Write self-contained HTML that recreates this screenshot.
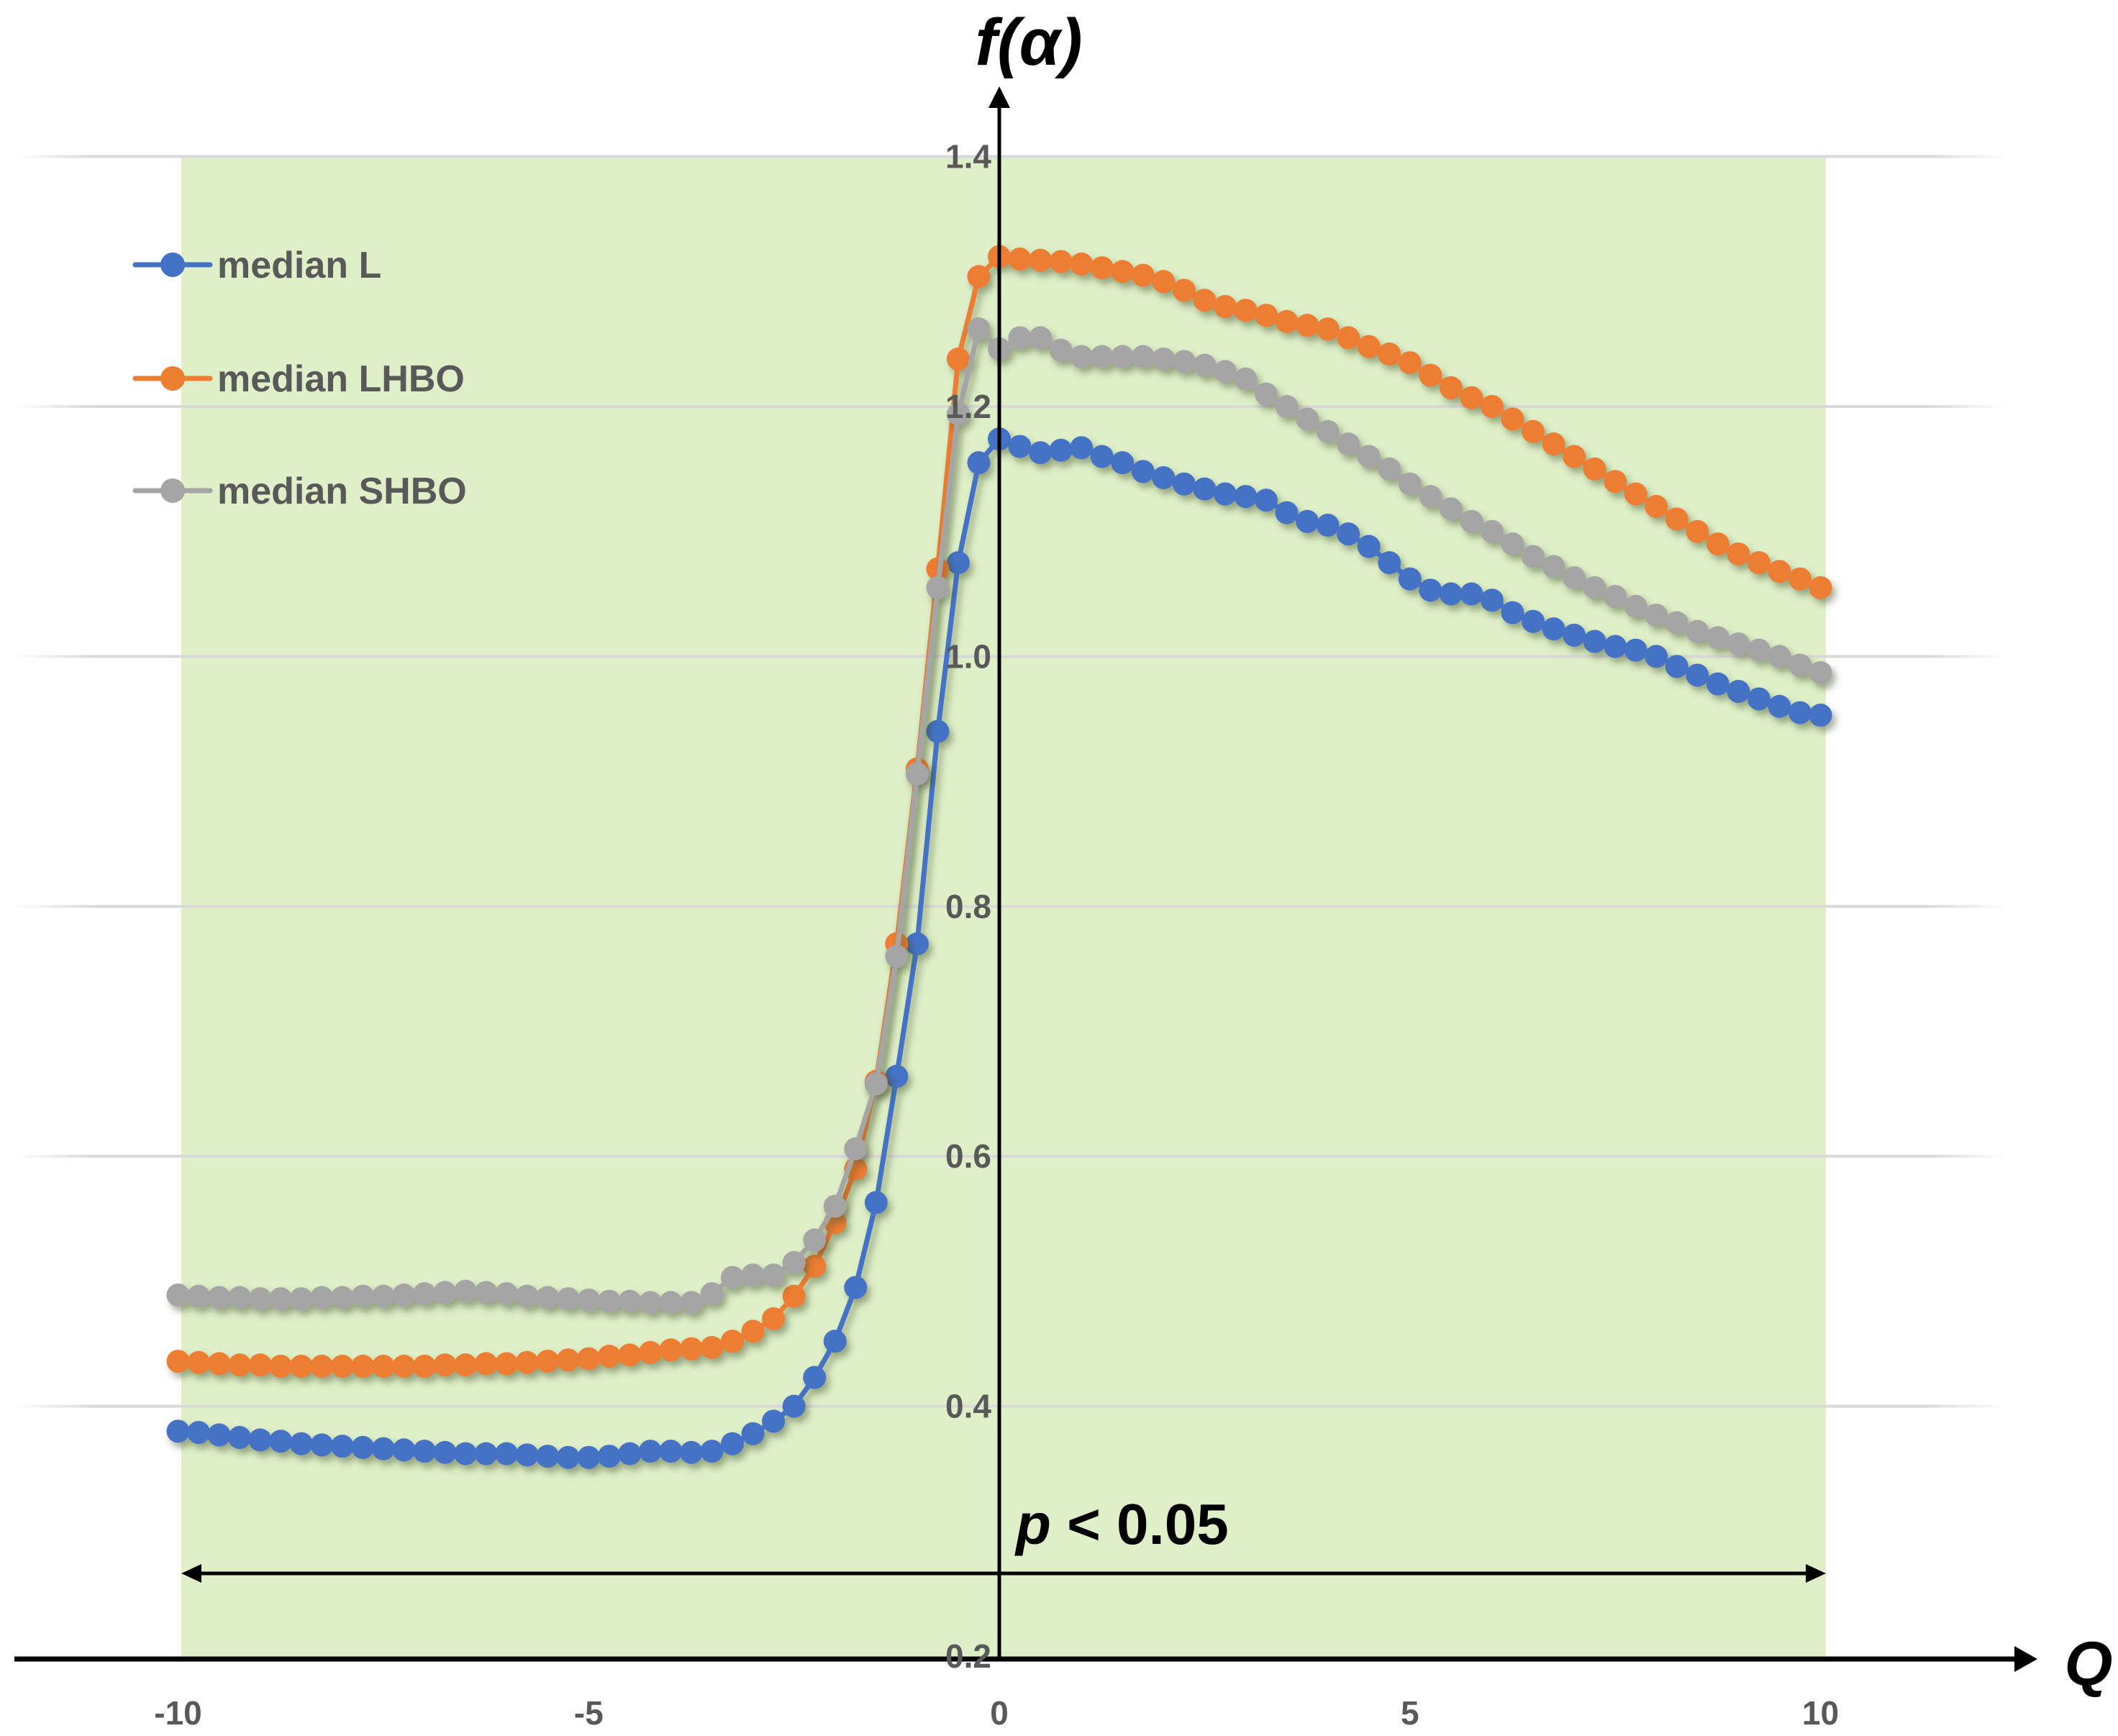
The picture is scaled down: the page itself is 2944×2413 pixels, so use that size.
<!DOCTYPE html>
<html><head><meta charset="utf-8"><title>f(alpha) vs Q</title>
<style>
html,body{margin:0;padding:0;background:#fff;}
svg{display:block;}
text{font-family:"Liberation Sans",sans-serif;}
</style></head>
<body>
<svg id="chart" xmlns="http://www.w3.org/2000/svg" width="2944" height="2413" viewBox="0 0 2944 2413">
<defs>
  <filter id="sh" x="-5%" y="-5%" width="110%" height="110%">
    <feDropShadow dx="5" dy="7" stdDeviation="5" flood-color="#3a4a20" flood-opacity="0.45"/>
  </filter>
  <linearGradient id="gridfade" x1="0" x2="1" y1="0" y2="0">
    <stop offset="0" stop-color="#d9d9d9" stop-opacity="0"/>
    <stop offset="0.04" stop-color="#d9d9d9" stop-opacity="1"/>
    <stop offset="0.96" stop-color="#d9d9d9" stop-opacity="1"/>
    <stop offset="1" stop-color="#d9d9d9" stop-opacity="0"/>
  </linearGradient>
</defs>
<rect x="252" y="218" width="2286" height="2088" fill="#dff0c9"/>
<g id="grid"></g>
<g id="series"></g>
<g id="axes">
  <line x1="1389" y1="2306" x2="1389" y2="150" stroke="#000" stroke-width="5"/>
  <polygon points="1389,120 1374,150 1404,150" fill="#000"/>
  <line x1="20" y1="2306" x2="2800" y2="2306" stroke="#000" stroke-width="7"/>
  <polygon points="2832,2306 2800,2288 2800,2324" fill="#000"/>
</g>
<g id="ticks"></g>
<text x="1430" y="90" font-size="92" font-weight="bold" font-style="italic" text-anchor="middle" fill="#000">f(α)</text>
<text x="2903" y="2342" font-size="86" font-weight="bold" font-style="italic" text-anchor="middle" fill="#000">Q</text>
<g>
  <line x1="275" y1="2187" x2="2515" y2="2187" stroke="#000" stroke-width="5"/>
  <polygon points="252,2187 280,2174 280,2200" fill="#000"/>
  <polygon points="2538,2187 2510,2174 2510,2200" fill="#000"/>
</g>
<text x="1412" y="2146" font-size="80" font-weight="bold" fill="#000"><tspan font-style="italic">p</tspan> &lt; 0.05</text>
<g id="legend"></g>
</svg>
<script>
const qValues = [];
for (let i = 0; i <= 80; i++) qValues.push(-10 + 0.25 * i);
const seriesNames = ["median L", "median LHBO", "median SHBO"];
const medianL = [0.380,0.379,0.377,0.375,0.373,0.372,0.370,0.369,0.368,0.367,0.366,0.365,0.364,0.363,0.362,0.362,0.362,0.361,0.360,0.359,0.359,0.360,0.362,0.364,0.364,0.363,0.364,0.370,0.378,0.388,0.400,0.423,0.452,0.495,0.563,0.664,0.770,0.940,1.075,1.155,1.174,1.168,1.163,1.165,1.167,1.160,1.155,1.148,1.143,1.138,1.134,1.130,1.128,1.125,1.115,1.108,1.105,1.098,1.088,1.075,1.062,1.053,1.050,1.050,1.045,1.035,1.028,1.022,1.017,1.012,1.008,1.005,1.000,0.992,0.985,0.978,0.972,0.966,0.960,0.955,0.953];
const medianLHBO = [0.436,0.435,0.434,0.433,0.433,0.432,0.432,0.432,0.432,0.432,0.432,0.432,0.432,0.433,0.433,0.434,0.434,0.435,0.436,0.437,0.438,0.440,0.441,0.443,0.445,0.446,0.447,0.452,0.460,0.470,0.488,0.512,0.547,0.590,0.660,0.770,0.910,1.070,1.238,1.304,1.320,1.318,1.317,1.316,1.314,1.311,1.308,1.305,1.300,1.293,1.285,1.280,1.277,1.273,1.268,1.265,1.262,1.255,1.248,1.242,1.235,1.225,1.215,1.207,1.200,1.190,1.180,1.170,1.160,1.150,1.140,1.130,1.120,1.110,1.100,1.090,1.082,1.075,1.068,1.062,1.055];
const medianSHBO = [0.489,0.488,0.487,0.487,0.486,0.486,0.486,0.487,0.487,0.488,0.488,0.489,0.490,0.491,0.492,0.491,0.490,0.488,0.487,0.486,0.485,0.484,0.484,0.483,0.483,0.483,0.490,0.503,0.505,0.505,0.515,0.533,0.560,0.606,0.658,0.760,0.906,1.055,1.194,1.262,1.246,1.255,1.255,1.245,1.240,1.240,1.240,1.240,1.238,1.236,1.233,1.228,1.222,1.210,1.200,1.190,1.180,1.170,1.160,1.150,1.138,1.128,1.118,1.108,1.100,1.090,1.080,1.072,1.063,1.055,1.048,1.040,1.033,1.027,1.020,1.015,1.010,1.005,1.000,0.993,0.987];
const seriesColors = ["#4472c4", "#ed7d31", "#a5a5a5"];
const yTicks = [0.2, 0.4, 0.6, 0.8, 1.0, 1.2, 1.4];
const yTickLabels = ["0.2","0.4","0.6","0.8","1.0","1.2","1.4"];
const xTicks = [-10, -5, 0, 5, 10];
const xTickLabels = ["-10","-5","0","5","10"];

const NS = "http://www.w3.org/2000/svg";
function xs(q){ return 1389 + q * 114.15; }
function ys(v){ return 2302 - (v - 0.2) * 1737; }
function mk(tag, attrs, parent){
  const e = document.createElementNS(NS, tag);
  for (const k in attrs) e.setAttribute(k, attrs[k]);
  parent.appendChild(e);
  return e;
}

const grid = document.getElementById("grid");
yTicks.forEach((t, i) => {
  if (i === 0) return;
  const g = mk("rect", {x: 20, y: ys(t) - 2, width: 2770, height: 4, fill: "url(#gridfade)"}, grid);
  
  
});

const ticks = document.getElementById("ticks");
yTicks.forEach((t, i) => {
  const el = mk("text", {x: 1378, y: ys(t) + 16, "font-size": 46, "font-weight": "bold", fill: "#595959", "text-anchor": "end"}, ticks);
  el.textContent = yTickLabels[i];
  
  
});
xTicks.forEach((t, i) => {
  const el = mk("text", {x: xs(t), y: 2397, "font-size": 46, "font-weight": "bold", fill: "#595959", "text-anchor": "middle"}, ticks);
  el.textContent = xTickLabels[i];
  
  
});

const seriesG = document.getElementById("series");
const allSeries = [medianL, medianLHBO, medianSHBO];
allSeries.forEach((vals, si) => {
  const g = mk("g", {filter: "url(#sh)"}, seriesG);
  
  
  const pts = vals.map((v, i) => xs(qValues[i]).toFixed(1) + "," + ys(v).toFixed(1)).join(" ");
  const line = mk("polyline", {points: pts, fill: "none", stroke: seriesColors[si], "stroke-width": 7, "stroke-linejoin": "round"}, g);
  
  
  vals.forEach((v, i) => {
    const c = mk("circle", {cx: xs(qValues[i]), cy: ys(v), r: 16, fill: seriesColors[si]}, g);
    
    
  });
});

const legend = document.getElementById("legend");
const legendY = [368, 526, 682];
seriesNames.forEach((n, i) => {
  const g = mk("g", {}, legend);
  
  
  mk("line", {x1: 188, y1: legendY[i], x2: 292, y2: legendY[i], stroke: seriesColors[i], "stroke-width": 7, "stroke-linecap": "round"}, g);
  mk("circle", {cx: 240, cy: legendY[i], r: 17, fill: seriesColors[i]}, g);
  const t = mk("text", {x: 302, y: legendY[i] + 18, "font-size": 52, "font-weight": "bold", fill: "#595959"}, g);
  t.textContent = n;
});
</script>
</body></html>
